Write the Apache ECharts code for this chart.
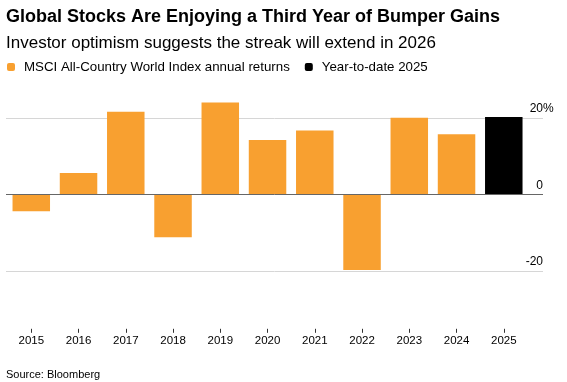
<!DOCTYPE html>
<html>
<head>
<meta charset="utf-8">
<script src="https://cdn.jsdelivr.net/npm/echarts@6/dist/echarts.min.js"></script>
<style>
html,body{margin:0;padding:0;background:#fff;}
#chart{width:567px;height:382px;}
</style>
</head>
<body>
<div id="chart"></div>
<script>
const years = [2015, 2016, 2017, 2018, 2019, 2020, 2021, 2022, 2023, 2024];
const annualReturns = [-4.4, 5.6, 21.6, -11.2, 24.0, 14.2, 16.7, -19.8, 20.0, 15.7];
const ytdYears = [2025];
const ytdReturns = [20.2];
const xTickYears = [2015, 2016, 2017, 2018, 2019, 2020, 2021, 2022, 2023, 2024, 2025];
const yTickValues = [-20, 0, 20];

const FONT = '"Liberation Sans", Arial, sans-serif';
const ORANGE = '#F8A030';

const chart = echarts.init(document.getElementById('chart'), null, {renderer: 'canvas'});

chart.setOption({
  animation: false,
  textStyle: {fontFamily: FONT},
  title: [
    {
      text: 'Global Stocks Are Enjoying a Third Year of Bumper Gains',
      left: 6, top: 8, padding: 0,
      textStyle: {fontFamily: FONT, fontSize: 18, fontWeight: 'bold', color: '#000'}
    },
    {
      text: 'Investor optimism suggests the streak will extend in 2026',
      left: 6, top: 35, padding: 0,
      textStyle: {fontFamily: FONT, fontSize: 17, fontWeight: 'normal', color: '#000'}
    },
    {
      text: 'Source: Bloomberg',
      left: 6, top: 369, padding: 0,
      textStyle: {fontFamily: FONT, fontSize: 11, fontWeight: 'normal', color: '#000'}
    }
  ],
  legend: {
    left: 7, top: 60, padding: 0,
    itemWidth: 8, itemHeight: 8, itemGap: 15,
    icon: 'roundRect',
    textStyle: {fontFamily: FONT, fontSize: 13.3, lineHeight: 14, color: '#000', padding: [0, 0, 0, 4]},
    data: ['MSCI All-Country World Index annual returns', 'Year-to-date 2025']
  },
  grid: {left: 6, right: 24, top: 194.3 - 26 * 3.825, bottom: 382 - (194.3 + 20 * 3.825), containLabel: false},
  xAxis: {
    type: 'value',
    min: 2014.465,
    max: 2025.83,
    offset: 58,
    splitLine: {show: false},
    axisLine: {show: false, onZero: false},
    axisTick: {show: true, length: 4, lineStyle: {color: '#333'}, customValues: xTickYears},
    axisLabel: {
      customValues: xTickYears,
      fontSize: 11.5, color: '#000', margin: 6.5,
      formatter: v => String(v)
    }
  },
  yAxis: {
    type: 'value',
    position: 'right',
    min: -20,
    max: 26,
    splitLine: {show: false},
    axisLine: {show: false},
    axisTick: {show: false},
    axisLabel: {
      customValues: yTickValues,
      inside: true,
      margin: -10.67,
      align: 'right',
      verticalAlign: 'bottom',
      padding: [0, 0, 3, 0],
      fontSize: 12, color: '#000',
      formatter: v => v === 20 ? '{n|20}{p|%}' : '{n|' + v + '}{s|%}',
      rich: {
        n: {fontSize: 12, fontFamily: FONT, color: '#000'},
        p: {fontSize: 12, fontFamily: FONT, color: '#000'},
        s: {fontSize: 12, fontFamily: FONT, color: 'rgba(0,0,0,0)'}
      }
    }
  },
  series: [
    {
      name: 'MSCI All-Country World Index annual returns',
      type: 'bar',
      barWidth: 37.5,
      barGap: '-100%',
      z: 3,
      itemStyle: {color: ORANGE},
      data: years.map((y, i) => [y, annualReturns[i]]),
      markLine: {
        silent: true, symbol: 'none', z: 1,
        label: {show: false},
        lineStyle: {color: '#d6d6d6', width: 1, type: 'solid'},
        data: yTickValues.filter(v => v !== 0).map(v => ({yAxis: v}))
      }
    },
    {
      name: 'Year-to-date 2025',
      type: 'bar',
      barWidth: 37.5,
      barGap: '-100%',
      z: 3,
      itemStyle: {color: '#000'},
      data: ytdYears.map((y, i) => [y, ytdReturns[i]]),
      markLine: {
        silent: true, symbol: 'none', z: 6,
        label: {show: false},
        lineStyle: {color: '#666', width: 1, type: 'solid'},
        data: [{yAxis: 0}]
      }
    }
  ]
});
</script>
</body>
</html>
